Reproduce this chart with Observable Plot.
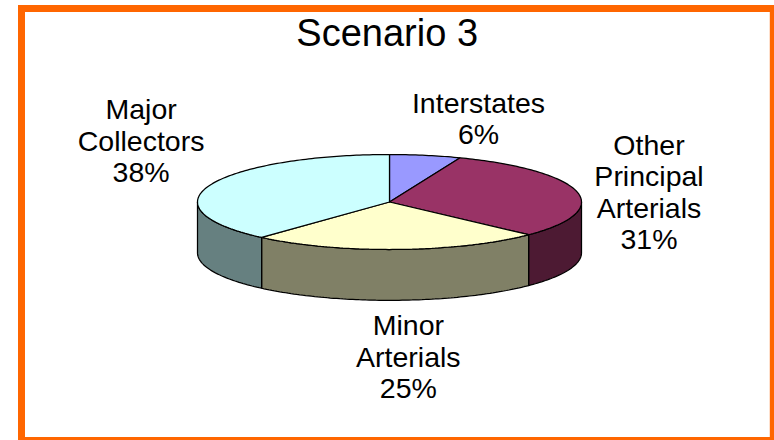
<!DOCTYPE html>
<html>
<head>
<meta charset="utf-8">
<script src="https://cdn.jsdelivr.net/npm/d3@7"></script>
<script src="https://cdn.jsdelivr.net/npm/@observablehq/plot@0.6"></script>
<style>
html,body{margin:0;padding:0;background:#fff;overflow:hidden}
svg{display:block}
</style>
</head>
<body>
<div id="chart"></div>
<script>
const chartTitle = "Scenario 3";
const categories = ["Interstates", "Other\nPrincipal\nArterials", "Minor\nArterials", "Major\nCollectors"];
const shares = [6, 31.1, 24.5, 38.4];
const shareLabels = ["6%", "31%", "25%", "38%"];
const topColors = ["#9999FF", "#993366", "#FFFFCC", "#CCFFFF"];
const sideColors = ["#4D4D80", "#4D1A33", "#808066", "#668080"];

const labelFont = "'Liberation Sans', Arial, sans-serif";
const depth = 1.07;           // height of the disc, in units of the squashed radius
const labelDx = [53, 72, 11, -69];
const labelDy = [-36.8, 0, 107, -44.5];

const slices = d3.pie().sort(null).value(d => d)(shares);
const rim = (t, drop = 0) => ({x: Math.sin(t), y: Math.cos(t) - drop});
const steps = (a, b) => {
  const n = Math.max(1, Math.ceil((b - a) / (Math.PI / 180)));
  return d3.range(n + 1).map(i => a + (b - a) * i / n);
};

const topPath = s => {
  const c = {x: 0, y: 0};
  return [c, ...steps(s.startAngle, s.endAngle).map(t => rim(t)), c];
};
const sidePath = s => {
  const a = Math.max(s.startAngle, Math.PI / 2);
  const b = Math.min(s.endAngle, 3 * Math.PI / 2);
  if (b <= a) return null;
  const ts = steps(a, b);
  const upper = ts.map(t => rim(t));
  const lower = ts.slice().reverse().map(t => rim(t, depth));
  return [...upper, ...lower, upper[0]];
};

const lineStyle = {x: "x", y: "y", stroke: "#000", strokeWidth: 1.25, strokeLinejoin: "miter"};

const labels = slices.map((s, i) => {
  const mid = (s.startAngle + s.endAngle) / 2;
  return {...rim(mid), text: categories[i] + "\n" + shareLabels[i], dx: labelDx[i], dy: labelDy[i]};
});

const plot = Plot.plot({
  width: 774,
  height: 440,
  marginLeft: 21,
  marginTop: 8,
  marginRight: 1.2,
  marginBottom: 0,
  style: {background: "#fff", fontFamily: labelFont},
  x: {domain: [-1, 1], range: [197, 581], axis: null},
  y: {domain: [-1, 1], range: [249, 154], axis: null},
  marks: [
    Plot.frame({stroke: "#FF6600", strokeWidth: 7}),
    ...slices.flatMap((s, i) => {
      const p = sidePath(s);
      return p ? [Plot.line(p, {...lineStyle, fill: sideColors[i]})] : [];
    }),
    ...slices.map((s, i) => Plot.line(topPath(s), {...lineStyle, fill: topColors[i]})),
    ...labels.map(l => Plot.text([l], {
      x: "x", y: "y", text: "text", dx: l.dx, dy: l.dy,
      fontSize: 28.5, lineHeight: 1.1, fill: "#000", fontFamily: labelFont
    })),
    Plot.text([chartTitle], {
      x: () => 0, y: () => 1, text: d => d, dx: -2.3, dy: -121,
      fontSize: 38, fill: "#000", fontFamily: labelFont
    })
  ]
});
document.getElementById("chart").appendChild(plot);
</script>
</body>
</html>
